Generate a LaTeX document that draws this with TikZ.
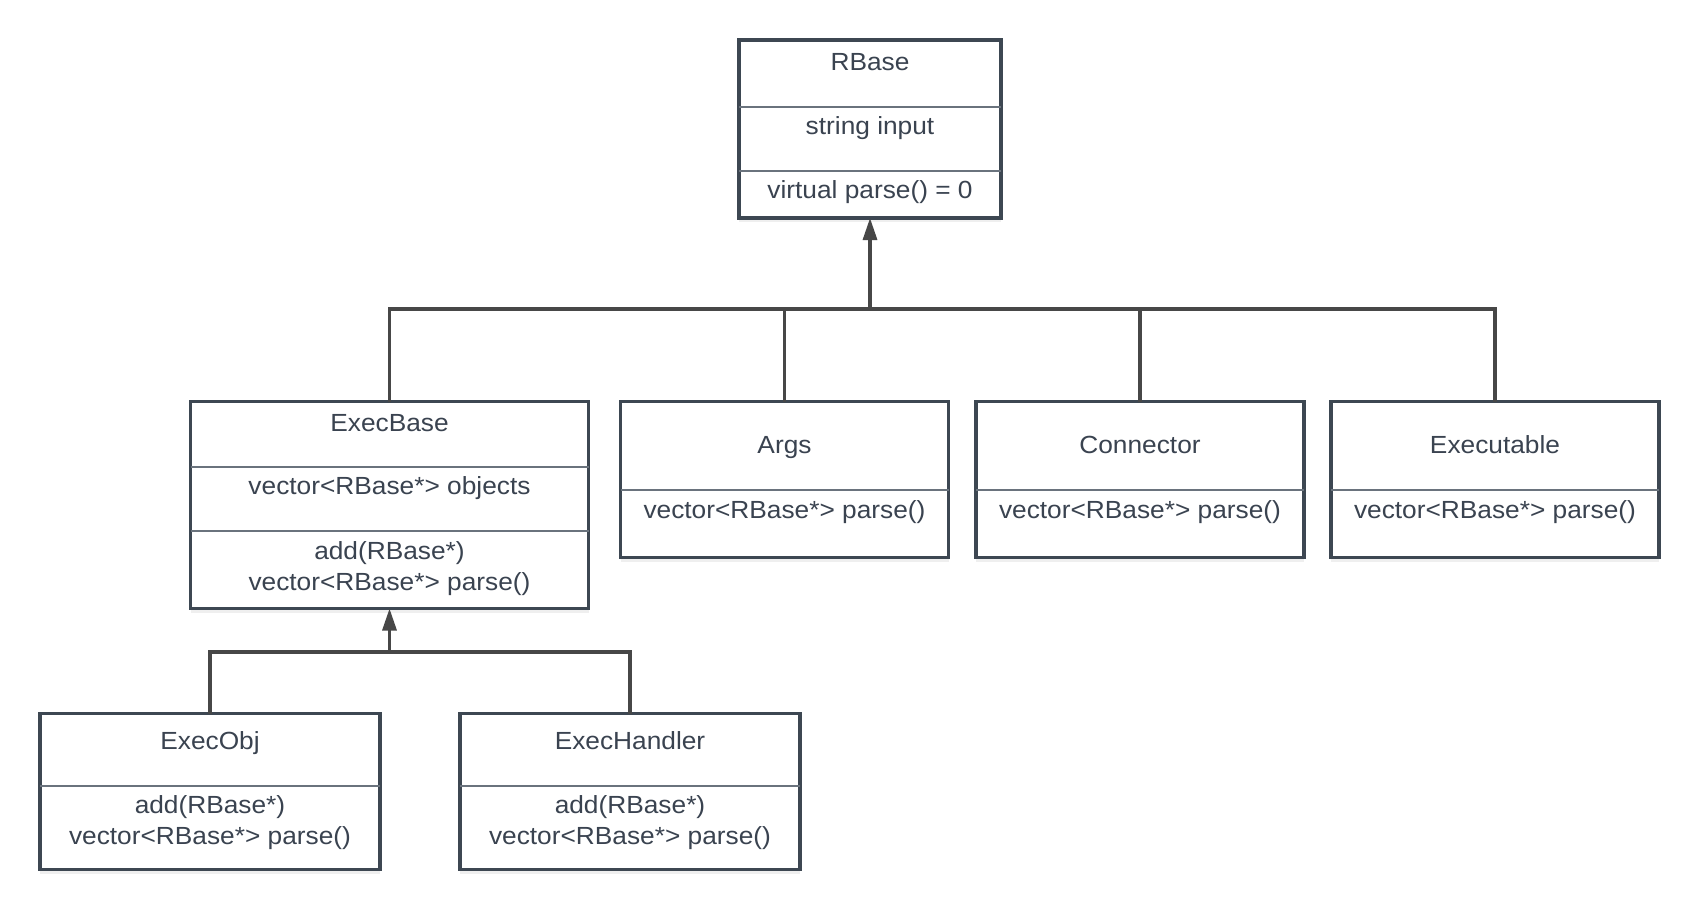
\documentclass[tikz,border=0pt]{standalone}
\usepackage{fontspec}
\setmainfont{Liberation Sans}[FakeStretch=1.06]
\usetikzlibrary{arrows.meta,calc,shadows}

\definecolor{classline}{HTML}{3D4752}
\definecolor{wireline}{HTML}{474747}
\definecolor{classtext}{HTML}{3A4350}
\definecolor{rulegray}{HTML}{6A737D}

\tikzset{
  umlclass/.style={draw=classline, line width=1.8pt, fill=white, inner sep=0pt, outer sep=0pt,
    drop shadow={shadow xshift=0pt, shadow yshift=-2pt, opacity=0.12}},
  smallclass/.style={umlclass, minimum width=164pt, minimum height=78pt},
  leafclass/.style={umlclass, minimum width=170pt, minimum height=78pt},
  member/.style={anchor=base, inner sep=0pt, text=classtext, align=center,
    font=\fontsize{12.4}{15.5}\selectfont},
  divider/.style={draw=rulegray, line width=0.6pt},
  wire/.style={draw=wireline, line width=1.6pt},
  inherit/.style={wire, -{Triangle[length=11pt,width=7pt]}}
}

\begin{document}
\begin{tikzpicture}[x=0.5pt, y=-0.5pt]
    \fill[white] (0,0) rectangle (1700,912);
    \useasboundingbox (0,0) rectangle (1700,912);

    % class boxes
    \node[umlclass, minimum width=131pt, minimum height=89pt] (rbase) at (870,129) {};
    \node[umlclass, minimum width=199pt, minimum height=103.5pt] (execbase) at (389.5,505) {};
    \node[smallclass] (args) at (784.5,479.5) {};
    \node[smallclass] (connector) at (1140,479.5) {};
    \node[smallclass] (executable) at (1495,479.5) {};
    \node[leafclass] (execobj) at (210,791.5) {};
    \node[leafclass] (exechandler) at (630,791.5) {};

    % compartments
    \draw[divider] ($(rbase.north west)+(0,67)$) -- ($(rbase.north east)+(0,67)$);
    \draw[divider] ($(rbase.north west)+(0,131)$) -- ($(rbase.north east)+(0,131)$);
    \draw[divider] ($(execbase.north west)+(0,65.5)$) -- ($(execbase.north east)+(0,65.5)$);
    \draw[divider] ($(execbase.north west)+(0,129.5)$) -- ($(execbase.north east)+(0,129.5)$);
    \foreach \c in {args,connector,executable}
      \draw[divider] ($(\c.north west)+(0,88.5)$) -- ($(\c.north east)+(0,88.5)$);
    \foreach \c in {execobj,exechandler}
      \draw[divider] ($(\c.north west)+(0,72.5)$) -- ($(\c.north east)+(0,72.5)$);

    % texts (two-line nodes sit on their last baseline)
    \node[member] (rbase-name) at (870,70) {RBase};
    \node[member] (rbase-attr) at (870,134) {string input};
    \node[member] (rbase-op) at (870,198) {virtual parse() = 0};

    \node[member] (execbase-name) at (389.5,431) {ExecBase};
    \node[member] (execbase-attr) at (389.5,494) {vector<RBase*> objects};
    \node[member] (execbase-op) at (389.5,590) {add(RBase*)\\vector<RBase*> parse()};

    \node[member] (args-name) at (784.5,453) {Args};
    \node[member] (args-op) at (784.5,518) {vector<RBase*> parse()};
    \node[member] (connector-name) at (1140,453) {Connector};
    \node[member] (connector-op) at (1140,518) {vector<RBase*> parse()};
    \node[member] (executable-name) at (1495,453) {Executable};
    \node[member] (executable-op) at (1495,518) {vector<RBase*> parse()};

    \node[member] (execobj-name) at (210,749) {ExecObj};
    \node[member] (execobj-op) at (210,844) {add(RBase*)\\vector<RBase*> parse()};
    \node[member] (exechandler-name) at (630,749) {ExecHandler};
    \node[member] (exechandler-op) at (630,844) {add(RBase*)\\vector<RBase*> parse()};

    % inheritance
    \coordinate (hub) at (870,309);
    \coordinate (subhub) at (389.5,652);
    \draw[inherit] (hub) -- (rbase.south);
    \foreach \c in {execbase,args,connector,executable}
      \draw[wire] (\c.north) |- (hub);
    \draw[inherit] (subhub) -- (execbase.south);
    \foreach \c in {execobj,exechandler}
      \draw[wire] (\c.north) |- (subhub);
\end{tikzpicture}
\end{document}
